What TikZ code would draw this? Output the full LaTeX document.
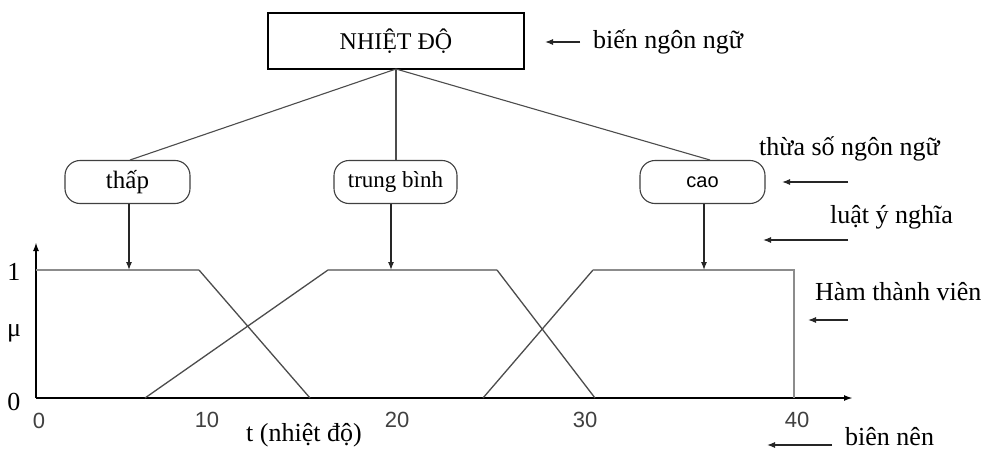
\documentclass[tikz,border=0pt]{standalone}
\usepackage{fontspec}
\setmainfont{Liberation Serif}
\newfontfamily\numfont{Liberation Sans}
\usetikzlibrary{arrows.meta}
\begin{document}
\begin{tikzpicture}[x=1pt,y=-1pt,
  lbl/.style={font=\fontsize{26}{28}\selectfont, inner sep=0pt},
  sidelbl/.style={lbl, anchor=west},
  termbox/.style={draw=black!75, line width=1.1pt, rounded corners=15pt,
    minimum height=43pt, inner sep=0pt, font=\fontsize{25}{27}\selectfont},
  branch/.style={draw=black!70, line width=1.1pt},
  pointer/.style={draw=black!85, line width=1.1pt, -{Latex[length=8pt,width=6pt]}},
  axis/.style={draw=black, line width=1.8pt},
  flat/.style={draw=black!45, line width=2pt},
  slope/.style={draw=black!70, line width=1.3pt},
  tick/.style={font=\numfont\fontsize{22}{24}\selectfont, text=black!75, inner sep=0pt}]
\useasboundingbox[fill=white] (0,0) rectangle (986,450);

% linguistic variable
\node[draw, line width=1.6pt, minimum width=256pt, minimum height=56pt, inner sep=0pt,
  font=\fontsize{24}{26}\selectfont] (var) at (396,41) {NHIỆT ĐỘ};

% linguistic terms
\node[termbox, minimum width=125pt] (low) at (127.5,182) {thấp};
\node[termbox, minimum width=123pt, font=\fontsize{23}{25}\selectfont] (mid) at (395.5,182) {trung bình};
\node[termbox, minimum width=125pt, font=\numfont\fontsize{20}{22}\selectfont] (high) at (702.5,182) {cao};

\coordinate (hub) at (396,69);
\draw[branch] (hub) -- (130,160);
\draw[branch] (hub) -- (mid.north -| hub);
\draw[branch] (hub) -- (710,160);

% axes
\coordinate (o) at (36,398);
\coordinate (ytop) at (36,242);
\coordinate (xend) at (853,398);
\draw[axis, -{Latex[length=9pt,width=6pt]}] (o) -- (ytop);
\draw[axis, -{Latex[length=9pt,width=6pt]}] (o) -- (xend);

% membership functions
\coordinate (lowpeak) at (129,270);
\coordinate (midpeak) at (391,270);
\coordinate (highpeak) at (704,270);
\draw[flat] (36,270) -- (199,270);
\draw[slope] (199,270) -- (310,398);
\draw[slope] (145,398) -- (328,270);
\draw[flat] (328,270) -- (497,270);
\draw[slope] (497,270) -- (595,398);
\draw[slope] (483,398) -- (593,270);
\draw[flat] (593,270) -- (794,270) -- (794,398);

% term-to-function pointers
\draw[pointer] (low.south -| lowpeak) -- (lowpeak);
\draw[pointer] (mid.south -| midpeak) -- (midpeak);
\draw[pointer] (high.south -| highpeak) -- (highpeak);

% axis labels
\node[lbl] (one) at (14,272) {1};
\node[lbl] (mu) at (14,333) {μ};
\node[lbl] (zero) at (14,402) {0};
\node[tick] (t0) at (39,421) {0};
\node[tick] (t10) at (207,420) {10};
\node[tick] (t20) at (397,420) {20};
\node[tick] (t30) at (585,420) {30};
\node[tick] (t40) at (797,420) {40};
\node[lbl] (tlab) at (304,435) {t (nhiệt độ)};

% side annotations
\node[sidelbl] (n1) at (593,42) {biến ngôn ngữ};
\node[sidelbl] (n2) at (759,149) {thừa số ngôn ngữ};
\node[sidelbl] (n3) at (830,217) {luật ý nghĩa};
\node[sidelbl] (n4) at (815,292) {Hàm thành viên};
\node[sidelbl] (n5) at (845,437) {biên nên};

\coordinate (a1s) at (580,42);   \coordinate (a1e) at (545,42);
\coordinate (a2s) at (848,182);  \coordinate (a2e) at (782,182);
\coordinate (a3s) at (848,240);  \coordinate (a3e) at (763,240);
\coordinate (a4s) at (848,320);  \coordinate (a4e) at (808,320);
\coordinate (a5s) at (832,445);  \coordinate (a5e) at (767,445);
\draw[pointer] (a1s) -- (a1e);
\draw[pointer] (a2s) -- (a2e);
\draw[pointer] (a3s) -- (a3e);
\draw[pointer] (a4s) -- (a4e);
\draw[pointer] (a5s) -- (a5e);
\end{tikzpicture}
\end{document}
